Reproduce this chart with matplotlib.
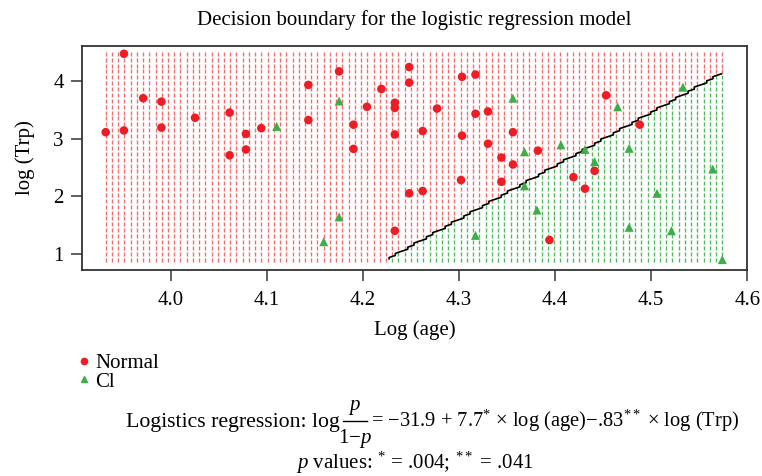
import numpy as np
import matplotlib
matplotlib.use('Agg')
import matplotlib.pyplot as plt
from matplotlib.lines import Line2D

plt.rcParams['font.family'] = ['Liberation Serif', 'DejaVu Serif']
plt.rcParams['mathtext.fontset'] = 'custom'
plt.rcParams['mathtext.rm'] = 'Liberation Serif'
plt.rcParams['mathtext.it'] = 'Liberation Serif:italic'

# observations (log age, log Trp)
normal_age = [3.932, 3.951, 3.951, 3.971, 3.990, 3.990, 4.025, 4.061, 4.061, 4.078,
              4.078, 4.094, 4.143, 4.143, 4.175, 4.190, 4.190, 4.204, 4.219, 4.233,
              4.233, 4.233, 4.233, 4.248, 4.248, 4.277, 4.262, 4.303, 4.317, 4.317,
              4.330, 4.303, 4.330, 4.356, 4.344, 4.382, 4.356, 4.302, 4.344, 4.248,
              4.262, 4.394, 4.419, 4.453, 4.488, 4.441, 4.431]
normal_trp = [3.11, 4.47, 3.14, 3.70, 3.64, 3.19, 3.36, 3.45, 2.71, 3.08,
              2.81, 3.18, 3.93, 3.32, 4.165, 3.24, 2.82, 3.55, 3.86, 3.62,
              3.53, 3.07, 1.40, 4.24, 3.97, 3.52, 3.13, 4.07, 4.11, 3.43,
              3.47, 3.05, 2.91, 3.11, 2.67, 2.79, 2.55, 2.28, 2.25, 2.05,
              2.09, 1.24, 2.33, 3.75, 3.24, 2.44, 2.13]
cl_age = [4.110, 4.175, 4.175, 4.159, 4.356, 4.368, 4.406, 4.368, 4.381, 4.317,
          4.465, 4.533, 4.477, 4.441, 4.431, 4.564, 4.506, 4.477, 4.521, 4.574]
cl_trp = [3.21, 3.65, 1.64, 1.21, 3.70, 2.77, 2.89, 2.18, 1.76, 1.32,
          3.55, 3.89, 2.83, 2.60, 2.81, 2.47, 2.05, 1.46, 1.40, 0.90]

# fitted boundary (intercept tuned to the drawn boundary)
b0, b_age, b_trp = -31.78, 7.7, -0.83

xticks = [4.0, 4.1, 4.2, 4.3, 4.4, 4.5, 4.6]
yticks = [1, 2, 3, 4]

red = '#ee1c25'
green = '#3fae49'
FS = 15

all_x = np.array(normal_age + cl_age)
all_y = np.array(normal_trp + cl_trp)

# prediction grid
gx = np.linspace(all_x.min(), all_x.max(), 100)
gy = np.linspace(all_y.min(), all_y.max(), 36)
GX, GY = np.meshgrid(gx, gy)
pred = (b0 + b_age * GX + b_trp * GY) > 0

fig = plt.figure(figsize=(7.62, 4.76), dpi=100)
ax = fig.add_axes([0.1072, 0.4328, 0.8735, 0.4712])

ax.scatter(GX[~pred], GY[~pred], marker='|', s=4.8, linewidths=1.0, color='#f04a4a', alpha=0.8)
ax.scatter(GX[pred], GY[pred], marker='|', s=4.8, linewidths=1.0, color='#3cb44b', alpha=0.9)

# boundary from a finer grid
fx = np.linspace(all_x.min(), all_x.max(), 100)
fy = np.linspace(all_y.min(), all_y.max(), 100)
FX, FY = np.meshgrid(fx, fy)
fpred = ((b0 + b_age * FX + b_trp * FY) > 0).astype(float)
ax.contour(FX, FY, fpred, levels=[0.5], colors='black', linewidths=1.2)

ax.scatter(normal_age, normal_trp, marker='o', s=38, color=red, edgecolors='none', zorder=3)
ax.scatter(cl_age, cl_trp, marker='^', s=42, color=green, edgecolors='none', zorder=3)

ax.set_xlim(3.907, 4.6)
ax.set_ylim(0.72, 4.61)
ax.set_xticks(xticks)
ax.set_xticklabels(['%.1f' % t for t in xticks])
ax.set_yticks(yticks)
ax.tick_params(axis='both', length=8, width=1.1, color='#333333', labelsize=FS)
ax.tick_params(axis='x', pad=7)
ax.tick_params(axis='y', pad=5)
for sp in ax.spines.values():
  sp.set_linewidth(1.3)
  sp.set_color('#333333')

ax.set_title('Decision boundary for the logistic regression model', fontsize=FS,
             y=1.1146, va='center', pad=0)
ax.set_xlabel('Log (age)', fontsize=FS, va='center')
ax.xaxis.set_label_coords(0.5, -0.27)
ax.set_ylabel('log (Trp)', fontsize=FS, va='center')
ax.yaxis.set_label_coords(-0.0852, 0.5)

handles = [Line2D([], [], marker='o', color=red, linestyle='none', markersize=4.5),
           Line2D([], [], marker='^', color=green, linestyle='none', markersize=4.5)]
fig.legend(handles, ['Normal', 'Cl'], loc='center left', bbox_to_anchor=(0.089, 1 - 372.5 / 476),
           frameon=False, fontsize=FS, handlelength=0.6, handletextpad=0.2,
           borderpad=0, labelspacing=-0.05)

# regression equation, built from pieces so the fraction is full size
def px(x, y):
  return x / 762, 1 - y / 476

fig.text(*px(340, 427), 'Logistics regression: log', ha='right', va='baseline', fontsize=15.7)
fig.text(*px(355, 410), r'$p$', ha='center', va='baseline', fontsize=FS)
fig.add_artist(Line2D([343 / 762, 367 / 762], [1 - 421 / 476, 1 - 421 / 476],
                      color='black', linewidth=1.0))
fig.text(*px(355, 443), r'1$-p$', ha='center', va='baseline', fontsize=FS)
fig.text(*px(371, 427), r'= −31.9 + 7.7$^{*}$ × log (age)−.83$^{**}$ × log (Trp)',
         ha='left', va='baseline', fontsize=14.8)
fig.text(*px(415, 469), r'$p$ values: $^{*}$ = .004; $^{**}$ = .041',
         ha='center', va='baseline', fontsize=FS)

fig.savefig('out.png', dpi=100)
